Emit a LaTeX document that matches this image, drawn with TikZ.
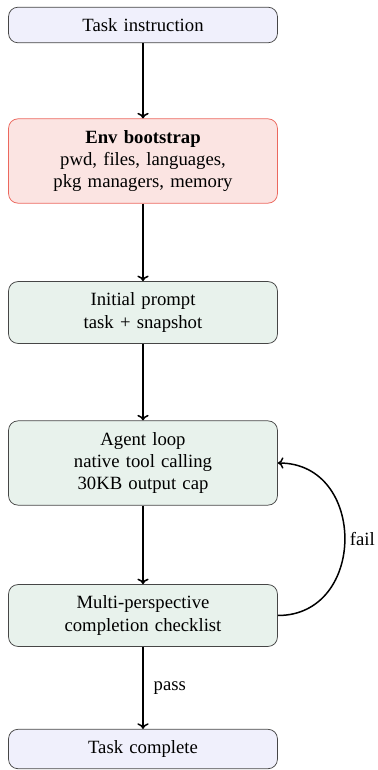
\documentclass[tikz,border=0pt]{standalone}
\usepackage{fontspec}
\setmainfont{Liberation Serif}
\usetikzlibrary{arrows.meta}
\definecolor{lavfill}{RGB}{240,240,252}
\definecolor{grayedge}{RGB}{70,70,70}
\definecolor{redfill}{RGB}{251,228,226}
\definecolor{rededge}{RGB}{236,104,94}
\definecolor{greenfill}{RGB}{232,242,236}
\begin{document}
\begin{tikzpicture}[x=0.5348pt,y=-0.5348pt,
  box/.style={draw=grayedge, rounded corners=5pt, align=center, text width=132pt,
    minimum width=143.8pt, inner xsep=4pt, inner ysep=6pt, font=\fontsize{10}{12}\selectfont},
  ioBox/.style={box, fill=lavfill},
  envBox/.style={box, fill=redfill, draw=rededge},
  stepBox/.style={box, fill=greenfill},
  lbl/.style={font=\fontsize{10}{12}\selectfont},
  conn/.style={thick, -{To[length=3pt,width=6pt]}}]
\useasboundingbox (0,0) rectangle (377,770);
\node[ioBox] (instr) at (143,25) {Task instruction};
\node[envBox] (env) at (143,161) {\textbf{Env bootstrap}\\pwd, files, languages,\\pkg managers, memory};
\node[stepBox] (prompt) at (143,312.5) {Initial prompt\\task + snapshot};
\node[stepBox] (loop) at (143,463) {Agent loop\\native tool calling\\30KB output cap};
\node[stepBox] (check) at (143,615.5) {Multi-perspective\\completion checklist};
\node[ioBox] (done) at (143,749) {Task complete};
\draw[conn] (instr) -- (env);
\draw[conn] (env) -- (prompt);
\draw[conn] (prompt) -- (loop);
\draw[conn] (loop) -- (check);
\draw[conn] (check) -- node[right, lbl, xshift=2pt] {pass} (done);
\draw[conn] (check.east) to[out=0, in=0, looseness=1.5] node[right, lbl, xshift=-1pt] {fail} (loop.east);
\end{tikzpicture}
\end{document}
